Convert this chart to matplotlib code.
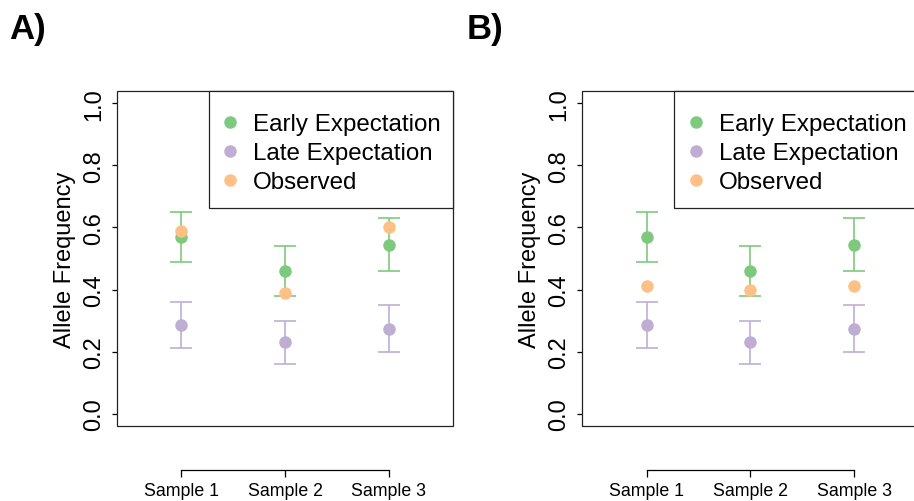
import matplotlib
matplotlib.use('Agg')
import matplotlib.pyplot as plt
from matplotlib.lines import Line2D
from matplotlib.patches import Rectangle
import numpy as np

plt.rcParams['font.family'] = ['Liberation Sans', 'DejaVu Sans']

# Data
samples = ['Sample 1', 'Sample 2', 'Sample 3']
early_mean = [0.57, 0.46, 0.545]
early_lo = [0.49, 0.38, 0.46]
early_hi = [0.65, 0.54, 0.63]
late_mean = [0.285, 0.23, 0.272]
late_lo = [0.21, 0.16, 0.20]
late_hi = [0.36, 0.30, 0.35]
observed_a = [0.59, 0.39, 0.60]
observed_b = [0.41, 0.40, 0.41]

green = '#7FC97F'
purple = '#BEAED4'
orange = '#FDC086'

W, H = 914, 502
fig = plt.figure(figsize=(W / 100, H / 100), dpi=100)


def panel(left_px, observed, tag, tag_x):
    ax = fig.add_axes([left_px / W, (H - 427) / H, 336 / W, 335 / H])
    x = np.arange(1, len(samples) + 1)

    for mean, lo, hi, col in [(early_mean, early_lo, early_hi, green),
                              (late_mean, late_lo, late_hi, purple)]:
        mean = np.array(mean)
        yerr = [mean - np.array(lo), np.array(hi) - mean]
        ax.errorbar(x, mean, yerr=yerr, fmt='o', color=col, ms=8,
                    elinewidth=1.2, capsize=7.7, capthick=1.2, zorder=3)
    ax.plot(x, observed, 'o', color=orange, ms=8, zorder=4)

    ax.set_xlim(0.38, 3.62)
    ax.set_ylim(-0.04, 1.04)

    # box around plot, x axis drawn detached below it (R style)
    for s in ['left', 'top', 'right']:
        ax.spines[s].set_visible(False)
    ax.add_patch(Rectangle((0, 0), 1, 1, transform=ax.transAxes, fill=False,
                           lw=0.9, edgecolor='#222222', clip_on=False, zorder=5))
    ax.spines['bottom'].set_position(('outward', 31.7))
    ax.spines['bottom'].set_bounds(1, 3)
    ax.spines['bottom'].set_linewidth(0.9)

    ax.set_xticks(x)
    ax.set_xticklabels(samples, fontsize=12.8)
    ax.tick_params(axis='x', length=5.3, width=0.9, pad=3)

    ax.set_yticks([0.0, 0.2, 0.4, 0.6, 0.8, 1.0])
    ax.set_yticklabels(['0.0', '0.2', '0.4', '0.6', '0.8', '1.0'], fontsize=17)
    ax.tick_params(axis='y', length=3.8, width=0.9, pad=5, labelrotation=90)
    for t in ax.get_yticklabels():
        t.set_va('center')

    ax.set_ylabel('Allele Frequency', fontsize=17)
    ax.yaxis.set_label_coords(-0.122, 0.5)

    # legend box (R legend sits flush in the top-right corner)
    ax.add_patch(Rectangle((0.273, 0.6516), 0.727, 0.3484, transform=ax.transAxes,
                           facecolor='white', edgecolor='#222222', lw=0.9,
                           clip_on=False, zorder=6))
    handles = [Line2D([], [], marker='o', ls='none', color=c, ms=8)
               for c in [green, purple, orange]]
    leg = ax.legend(handles, ['Early Expectation', 'Late Expectation', 'Observed'],
                    loc='upper right', bbox_to_anchor=(1 - 12 / 336, 1 - 22 / 335),
                    borderaxespad=0, borderpad=0, fontsize=17.4, frameon=False,
                    handlelength=0.6, handletextpad=0.65, labelspacing=0.29)
    leg.set_zorder(7)

    fig.text(tag_x / W, 1 - 30 / H, tag, fontsize=25, fontweight='bold',
             ha='left', va='center')
    return ax


panel(117, observed_a, 'A)', 9)
panel(582.3, observed_b, 'B)', 467)

fig.savefig('out.png', dpi=100)
